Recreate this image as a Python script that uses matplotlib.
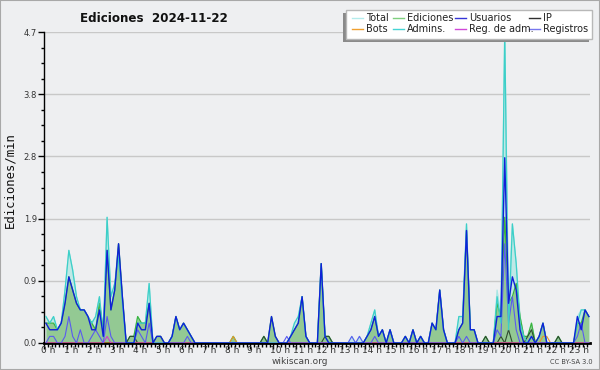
import numpy as np
import matplotlib
matplotlib.use('Agg')
import matplotlib.pyplot as plt
from matplotlib.patches import Rectangle
from matplotlib.lines import Line2D
from matplotlib.transforms import ScaledTranslation

# Edits per minute, one value per 10 minutes (rows = hours)
usr = [0.3, 0.2, 0.2, 0.2, 0.3, 0.6,  1.0, 0.8, 0.6, 0.5, 0.5, 0.4,
       0.2, 0.2, 0.5, 0.1, 1.4, 0.5,  0.8, 1.5, 0.7, 0, 0, 0,
       0.3, 0.2, 0.2, 0.6, 0, 0.1,    0.1, 0, 0, 0.1, 0.4, 0.2,
       0.3, 0.2, 0.1, 0, 0, 0,        0, 0, 0, 0, 0, 0,
       0, 0, 0, 0, 0, 0,              0, 0, 0, 0, 0, 0.4,
       0.1, 0, 0, 0, 0.1, 0.2,        0.3, 0.7, 0.1, 0, 0, 0,
       1.2, 0.1, 0, 0, 0, 0,          0, 0, 0, 0, 0, 0,
       0.1, 0.2, 0.4, 0.1, 0.2, 0,    0.2, 0, 0, 0, 0.1, 0,
       0.2, 0, 0.1, 0, 0, 0.3,        0.2, 0.8, 0.2, 0, 0, 0,
       0.2, 0.3, 1.7, 0.2, 0.2, 0,    0, 0, 0, 0, 0.4, 0.4,
       2.8, 0.6, 1.0, 0.8, 0.2, 0,    0, 0.1, 0, 0.1, 0.3, 0,
       0, 0, 0, 0, 0, 0,              0, 0.4, 0.2, 0.5, 0.4]
edi = [0.3, 0.3, 0.3, 0.2, 0.3, 0.6,  1.0, 0.8, 0.6, 0.5, 0.5, 0.4,
       0.3, 0.2, 0.6, 0.2, 1.4, 0.5,  0.8, 1.5, 0.7, 0, 0.1, 0.1,
       0.4, 0.3, 0.3, 0.6, 0, 0.1,    0.1, 0, 0, 0.1, 0.4, 0.2,
       0.3, 0.2, 0.1, 0, 0, 0,        0, 0, 0, 0, 0, 0,
       0, 0.1, 0, 0, 0, 0,            0, 0, 0, 0.1, 0, 0.4,
       0.1, 0, 0, 0, 0.1, 0.2,        0.3, 0.7, 0.1, 0, 0, 0,
       1.2, 0.1, 0.1, 0, 0, 0,        0, 0, 0, 0, 0, 0,
       0.1, 0.2, 0.4, 0.1, 0.2, 0,    0.2, 0, 0, 0, 0.1, 0,
       0.2, 0, 0.1, 0, 0, 0.3,        0.2, 0.8, 0.2, 0, 0, 0,
       0.2, 0.3, 1.7, 0.2, 0.2, 0,    0, 0.1, 0, 0, 0.6, 0.4,
       1.9, 0.6, 0.7, 0.9, 0.4, 0.1,  0.1, 0.3, 0, 0.1, 0.3, 0,
       0, 0, 0.1, 0, 0, 0,            0, 0.3, 0.3, 0.5, 0.4]
adm = [0.4, 0.3, 0.4, 0.2, 0.3, 0.8,  1.4, 1.1, 0.7, 0.5, 0.5, 0.4,
       0.3, 0.4, 0.7, 0.1, 1.9, 0.7,  0.9, 1.3, 0.6, 0, 0, 0,
       0.3, 0.3, 0.3, 0.9, 0, 0,      0, 0, 0, 0.1, 0.4, 0.2,
       0.3, 0.2, 0.1, 0, 0, 0,        0, 0, 0, 0, 0, 0,
       0, 0, 0, 0, 0, 0,              0, 0, 0, 0, 0, 0,
       0, 0, 0, 0, 0.1, 0.3,          0.4, 0.7, 0.1, 0, 0, 0,
       1.2, 0.1, 0, 0, 0, 0,          0, 0, 0, 0, 0, 0,
       0.1, 0.3, 0.5, 0.1, 0.2, 0,    0.2, 0, 0, 0, 0.1, 0,
       0.2, 0, 0.1, 0, 0, 0.3,        0.2, 0.8, 0.2, 0, 0, 0,
       0.4, 0.4, 1.8, 0.2, 0.2, 0,    0, 0, 0, 0, 0.7, 0.3,
       4.7, 0.2, 1.8, 1.2, 0.3, 0.1,  0, 0.1, 0, 0.1, 0.3, 0,
       0, 0, 0, 0, 0, 0,              0, 0.3, 0.5, 0.5, 0.4]
tot = [0.4, 0.3, 0.4, 0.2, 0.3, 0.8,  1.4, 1.1, 0.7, 0.5, 0.5, 0.4,
       0.3, 0.4, 0.7, 0.2, 1.9, 0.7,  0.9, 1.5, 0.7, 0, 0.1, 0.1,
       0.4, 0.3, 0.3, 0.9, 0, 0.1,    0.1, 0, 0, 0.1, 0.4, 0.2,
       0.3, 0.2, 0.1, 0, 0, 0,        0, 0, 0, 0, 0, 0,
       0, 0.1, 0, 0, 0, 0,            0, 0, 0, 0.1, 0, 0.4,
       0.1, 0, 0, 0, 0.1, 0.3,        0.4, 0.7, 0.1, 0, 0, 0,
       1.2, 0.1, 0.1, 0, 0, 0,        0, 0, 0.1, 0, 0.1, 0,
       0.1, 0.3, 0.5, 0.1, 0.2, 0,    0.2, 0, 0, 0, 0.1, 0,
       0.2, 0, 0.1, 0, 0, 0.3,        0.2, 0.8, 0.2, 0, 0, 0,
       0.4, 0.4, 1.8, 0.2, 0.2, 0,    0, 0.1, 0, 0, 0.8, 0.4,
       4.7, 0.6, 1.8, 1.2, 0.4, 0.1,  0.1, 0.3, 0, 0.1, 0.3, 0,
       0, 0, 0.1, 0, 0, 0,            0, 0.4, 0.5, 0.5, 0.4]
ip = [0, 0, 0, 0, 0, 0,  0, 0, 0, 0, 0, 0,  0, 0, 0, 0, 0, 0,  0, 0, 0, 0, 0.1, 0.1,
      0, 0, 0, 0, 0, 0,  0, 0, 0, 0, 0, 0,  0, 0, 0, 0, 0, 0,  0, 0, 0, 0, 0, 0,
      0, 0, 0, 0, 0, 0,  0, 0, 0, 0.1, 0, 0,  0, 0, 0, 0, 0, 0,  0, 0, 0, 0, 0, 0,
      0, 0.1, 0.1, 0, 0, 0,  0, 0, 0, 0, 0, 0,  0, 0, 0, 0, 0, 0,  0, 0, 0, 0, 0, 0,
      0, 0, 0, 0, 0, 0,  0, 0, 0, 0, 0, 0,  0, 0, 0, 0, 0, 0,  0, 0.1, 0, 0, 0, 0.1,
      0, 0.2, 0, 0, 0, 0,  0.1, 0.2, 0, 0, 0, 0,  0, 0, 0.1, 0, 0, 0,  0, 0, 0, 0, 0]
bots = [0] * 48 + [0, 0.1, 0, 0, 0, 0] + [0] * 72 + [0, 0, 0, 0, 0.1, 0.1] + [0] * 11
regadm = [0] * 12 + [0, 0, 0, 0, 0.1, 0] + [0] * 125
reg = [0, 0.1, 0.1, 0, 0, 0.1,  0.4, 0.1, 0, 0.2, 0, 0,  0.1, 0.2, 0.1, 0, 0.4, 0.1,
       0, 0, 0, 0, 0, 0,  0.2, 0.1, 0, 0.3, 0, 0,  0, 0, 0, 0, 0, 0,
       0, 0.1, 0, 0, 0, 0] + [0] * 18 + \
      [0, 0, 0, 0.1, 0, 0] + [0] * 12 + \
      [0, 0, 0.1, 0, 0.1, 0,  0, 0, 0.1, 0, 0, 0] + [0] * 18 + \
      [0.1, 0, 0.1, 0, 0, 0,  0, 0, 0, 0, 0.2, 0.1,  1.5, 0.3, 0.7, 0.2, 0, 0] + \
      [0] * 12 + [0, 0.1, 0.3, 0, 0]

hours = [f"{h} h" for h in range(24)]
x = np.arange(len(usr)) + 0.5

W, H = 600, 370
bg = '#eeeff1'
fig = plt.figure(figsize=(6, 3.7), dpi=100, facecolor=bg)
ax = fig.add_axes([44 / W, 1 - 343 / H, 546 / W, 311 / H], facecolor=bg)

ax.fill_between(x, tot, color='#bfe8e6', lw=0, zorder=1)
ax.fill_between(x, edi, color='#93c993', lw=0, zorder=2)
ax.plot(x, tot, color='#a8e6e4', lw=0.9, zorder=3)
ax.plot(x, edi, color='#3cb43c', lw=0.9, zorder=4)
ax.plot(x, ip, color='#2f4a2f', lw=0.8, zorder=5)
ax.plot(x, bots, color='#e8962a', lw=0.8, zorder=5)
ax.plot(x, regadm, color='#d040d0', lw=0.8, zorder=5)
ax.plot(x, reg, color='#5a5af0', lw=0.8, zorder=6)
ax.plot(x, adm, color='#3ccfc8', lw=0.9, zorder=7)
ax.plot(x, usr, color='#1020d8', lw=1.0, zorder=8)

ymax = 4.7
ax.set_ylim(0, ymax)
ax.set_xlim(0, 142.8)
ax.set_yticks(np.linspace(0, ymax, 6))
ax.set_yticklabels([f"{v:.1f}" for v in np.linspace(0, ymax, 6)])
ax.set_yticks(np.linspace(0, ymax, 21), minor=True)
ax.set_xticks(np.arange(24) * 6)
ax.set_xticklabels(hours)
ax.set_xticks(np.arange(0, 143), minor=True)
ax.grid(axis='y', color='#c8c8c8', lw=1, zorder=0)
ax.set_axisbelow(True)

for s in ['top', 'right']:
    ax.spines[s].set_visible(False)
ax.spines['left'].set_linewidth(1)
ax.spines['bottom'].set_linewidth(2)
ax.tick_params(axis='y', which='major', length=4, width=1, labelsize=6,
               labelcolor='#333333', pad=1)
ax.tick_params(axis='y', which='minor', length=2.5, width=1)
ax.tick_params(axis='x', which='major', length=4, width=1, labelsize=6.5,
               labelcolor='#333333', pad=-2)
ax.tick_params(axis='x', which='minor', length=3, width=1)
for lbl in ax.get_xticklabels():
    lbl.set_ha('left')
    lbl.set_transform(lbl.get_transform() + ScaledTranslation(-3 / 100, 0, fig.dpi_scale_trans))


def fx(px):
    return px / W


def fy(py):
    return 1 - py / H


# outer frame
fig.patches.append(Rectangle((0, 0), 1, 1, transform=fig.transFigure, fill=False,
                             edgecolor='#a8a8a8', lw=1.5))

fig.text(fx(154), fy(18), 'Ediciones  2024-11-22', ha='center', va='center',
         fontsize=8.6, fontweight='bold', color='#111111')
fig.text(fx(10), fy(180), 'Ediciones/min', rotation=90, ha='center', va='center',
         fontsize=8.8, family='DejaVu Sans Mono', color='#111111')
fig.text(fx(300), fy(362), 'wikiscan.org', ha='center', va='center', fontsize=6.5,
         color='#444444')
fig.text(fx(571), fy(362), 'CC BY-SA 3.0', ha='center', va='center', fontsize=4.8,
         color='#444444')

# legend box with shadow
fig.patches.append(Rectangle((fx(343), fy(42)), fx(246), 29 / H, transform=fig.transFigure,
                             facecolor='#8a8a8a', edgecolor='none'))
fig.patches.append(Rectangle((fx(346), fy(39)), fx(246), 29 / H, transform=fig.transFigure,
                             facecolor='white', edgecolor='#b8b8b8', lw=1))
leg_names = ['Total', 'Ediciones', 'Usuarios', 'IP',
             'Bots', 'Admins.', 'Reg. de adm.', 'Registros']
leg_colors = ['#b4ecec', '#7fcf7f', '#3535d8', '#303030',
              '#f0a030', '#45d4d4', '#d048d8', '#7878ee']
col_x = [352, 393, 455, 529]
row_y = [18, 29]
for k, (name, c) in enumerate(zip(leg_names, leg_colors)):
    cx = col_x[k % 4]
    ry = row_y[k // 4]
    fig.lines.append(Line2D([fx(cx), fx(cx + 11)], [fy(ry), fy(ry)], color=c, lw=1,
                            transform=fig.transFigure))
    fig.text(fx(cx + 14), fy(ry), name, ha='left', va='center', fontsize=7,
             color='#222222')

fig.savefig('out.png', dpi=100, facecolor=bg)
